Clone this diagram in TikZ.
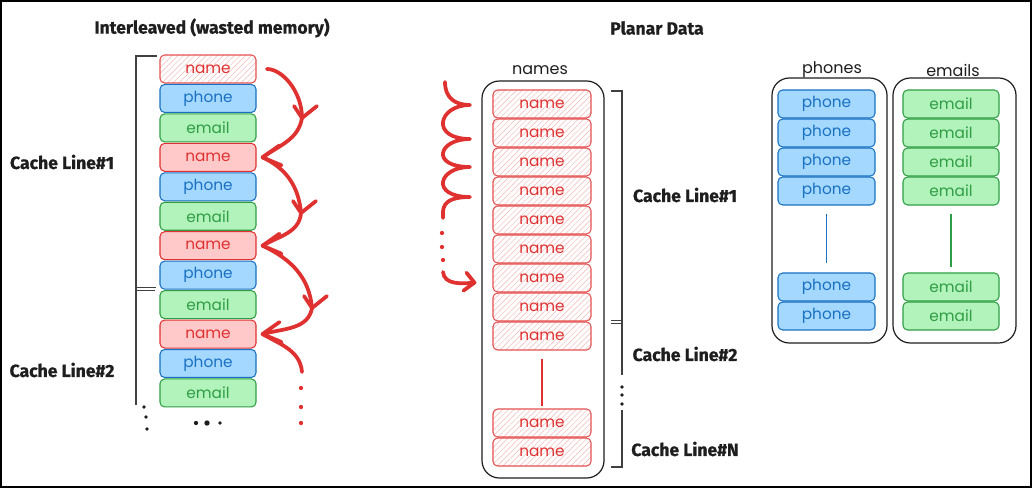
\documentclass[tikz,border=0pt]{standalone}
\usepackage{fontspec}
\setmainfont{Fira Sans}
\newfontfamily\handfont{Poppins}
\newfontfamily\headfont[FakeBold=0.8]{Fira Sans Bold}
\usetikzlibrary{patterns.meta,positioning}
\definecolor{namered}{HTML}{E03131}
\definecolor{namefill}{HTML}{FFC9C9}
\definecolor{phoneblue}{HTML}{1971C2}
\definecolor{phonefill}{HTML}{A5D8FF}
\definecolor{emailgreen}{HTML}{2F9E44}
\definecolor{emailfill}{HTML}{B2F2BB}
\definecolor{ink}{HTML}{1E1E1E}
\tikzset{
	cell/.style={rectangle, rounded corners=3.5pt, line width=0.8pt, minimum height=21pt, inner sep=0pt, font=\handfont\fontsize{11.5}{11.5}\selectfont},
	namecell/.style={cell, draw=namered, fill=namefill, text=namered, minimum width=72pt},
	hatchcell/.style={cell, draw=namered!85, pattern={Lines[angle=45,distance=3pt,line width=0.35pt]}, pattern color=namered!35, text=namered, minimum width=#1},
	hatchcell/.default=73.5pt,
	phonecell/.style={cell, draw=phoneblue, fill=phonefill, text=phoneblue, minimum width=#1},
	phonecell/.default=72pt,
	emailcell/.style={cell, draw=emailgreen, fill=emailfill, text=emailgreen, minimum width=#1},
	emailcell/.default=72pt,
	group/.style={draw=ink, rounded corners=13pt, line width=0.9pt, inner sep=0pt},
	caption/.style={text=ink, font=\handfont\fontsize{12}{12}\selectfont, inner sep=0pt},
	heading/.style={text=ink, font=\headfont\fontsize{13.2}{15}\selectfont, inner sep=0pt},
	bracket/.style={draw=ink!85, line width=1.1pt},
	hop/.style={draw=namered, line width=2.8pt, line cap=round, line join=round}
}
\begin{document}
\begin{tikzpicture}[x=0.75pt,y=-0.75pt]
	\useasboundingbox (0,0) rectangle (1032,488);
	\fill[white] (0,0) rectangle (1032,488);
	\draw[line width=1.5pt] (1,1) rectangle (1031,487);

	\node[heading] (titleleft) at (212,28) {Interleaved (wasted memory)};
	\node[heading] (titleright) at (657,28) {Planar Data};

	\node[hatchcell=72pt] (in1) at (208,69) {name};
	\foreach \k in {2,...,4}
	{
		\node[namecell] (in\k) at (208,{69+88.35*(\k-1)}) {name};
	}
	\foreach \k in {1,...,4}
	{
		\node[phonecell] (ip\k) at (208,{98.45+88.35*(\k-1)}) {phone};
		\node[emailcell] (ie\k) at (208,{127.9+88.35*(\k-1)}) {email};
	}

	\draw[bracket] (157,56) -- (136,56) -- (136,405);
	\draw[bracket, line width=0.8pt] (136,287.8) -- (156,287.8);
	\draw[bracket, line width=0.8pt] (136,290.6) -- (155,290.6);
	\node[heading] (cl1) at (62,162) {Cache Line\#1};
	\node[heading] (cl2) at (62,370) {Cache Line\#2};
	\fill[ink] (144,407) circle (1.4pt) (146,417) circle (1.4pt) (147,429) circle (1.4pt);
	\fill[ink] (196,423) circle (1.6pt) (207,423) circle (2pt) (220,423) circle (1.4pt);

	\coordinate (a1) at (302,118);
	\coordinate (a2) at (301,213);
	\coordinate (a3) at (312,308);
	\coordinate (a4) at (302,372);
	\foreach \k in {2,...,4}
	{
		\coordinate (t\k) at ([xshift=4.5pt]in\k.east);
	}
	\draw[hop, shorten <=8pt] (in1.east) to[out=0,in=90] (a1);
	\draw[hop] (a1) to[out=-100,in=35] (t2);
	\draw[hop] (t2) to[out=-25,in=95] (a2);
	\draw[hop] (a2) to[out=-95,in=30] (t3);
	\draw[hop] (t3) to[out=-25,in=95] (a3);
	\draw[hop] (a3) to[out=-100,in=15] (t4);
	\draw[hop] (t4) to[out=-30,in=95] (a4);
	\foreach \p in {a1,a2,a3}
	{
		\draw[hop] ([shift={(-8,-12)}]\p) -- (\p) -- ([shift={(15,-12)}]\p);
	}
	\foreach \p in {t2,t3,t4}
	{
		\draw[hop] ([shift={(17,-12)}]\p) -- (\p) -- ([shift={(19,8)}]\p);
	}
	\fill[namered] (301,388) circle (1.6pt) (301,407) circle (1.6pt) (301,423) circle (1.6pt);

	\node[group, minimum width=91.5pt, minimum height=297.75pt] (namesbox) at (543,279.5) {};
	\node[caption] (namescap) at (540,70) {names};
	\foreach \k in {1,...,9}
	{
		\node[hatchcell] (nm\k) at (542,{104+29*(\k-1)}) {name};
	}
	\node[hatchcell] (nm10) at (542,423) {name};
	\node[hatchcell] (nm11) at (542,452) {name};
	\draw[namered, line width=0.8pt, shorten <=6pt, shorten >=2pt] (nm9) -- (nm10);

	\draw[hop] (445,82) .. controls (445,98) and (455,105) .. (470,105)
		.. controls (438,105) and (430,139) .. (470,139)
		.. controls (438,139) and (430,167) .. (470,167)
		.. controls (438,167) and (430,197) .. (470,197)
		.. controls (440,197) and (443,210) .. (443,218);
	\fill[namered] (442,233) circle (1.6pt) (442,247) circle (1.6pt) (443,260) circle (1.6pt);
	\coordinate (w1) at (443,272);
	\coordinate (w2) at ([xshift=-13.5pt,yshift=-3.5pt]nm7.west);
	\draw[hop] (w1) to[out=-85,in=185] (w2);
	\draw[hop] ([shift={(-8,-10)}]w2) -- (w2) -- ([shift={(-11,8)}]w2);

	\draw[bracket] (611,91) -- (622,91) -- (622,375);
	\draw[bracket, line width=0.8pt] (611,320.8) -- (622,320.8);
	\draw[bracket, line width=0.8pt] (611,323.6) -- (622,323.6);
	\fill[ink] (622,387) circle (1.4pt) (622,395) circle (1.4pt) (622,404) circle (1.4pt);
	\draw[bracket] (622,410) -- (622,467) -- (611,467);
	\node[heading] (cm1) at (685,195) {Cache Line\#1};
	\node[heading] (cm2) at (685,354) {Cache Line\#2};
	\node[heading] (cmn) at (685,449) {Cache Line\#N};

	\node[group, minimum width=86.25pt, minimum height=198.75pt] (phonesbox) at (829.5,210.5) {};
	\node[caption] (phonescap) at (832,70) {phones};
	\node[group, minimum width=92.25pt, minimum height=198.75pt] (emailsbox) at (954.5,210.5) {};
	\node[caption] (emailscap) at (953,70) {emails};
	\foreach \k in {1,...,4}
	{
		\node[phonecell=72.75pt] (ph\k) at (826.5,{104+29*(\k-1)}) {phone};
		\node[emailcell] (em\k) at (951,{104+29*(\k-1)}) {email};
	}
	\node[phonecell=72.75pt] (ph5) at (826.5,287) {phone};
	\node[phonecell=72.75pt] (ph6) at (826.5,316) {phone};
	\node[emailcell] (em5) at (951,287) {email};
	\node[emailcell] (em6) at (951,316) {email};
	\draw[phoneblue, line width=0.8pt, shorten <=6pt, shorten >=7pt] (ph4) -- (ph5);
	\draw[emailgreen, line width=0.8pt, shorten <=6pt, shorten >=4pt] (em4) -- (em5);
\end{tikzpicture}
\end{document}
